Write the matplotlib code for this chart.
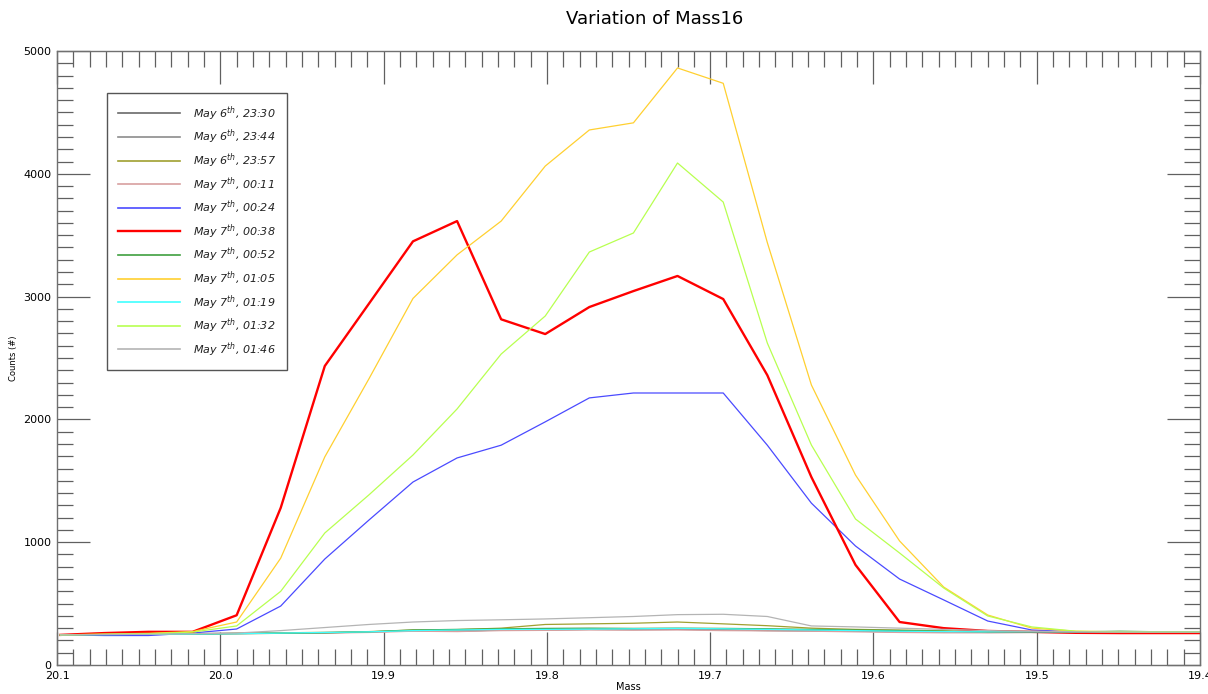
import matplotlib
matplotlib.use('Agg')
import matplotlib.pyplot as plt
from matplotlib.ticker import MultipleLocator

plt.rcParams['font.family'] = 'DejaVu Sans'
plt.rcParams['mathtext.default'] = 'it'

# mass positions of the scan points
mass = [20.098, 20.071, 20.044, 20.017, 19.990, 19.963, 19.936, 19.909, 19.882,
        19.855, 19.828, 19.801, 19.774, 19.747, 19.720, 19.692, 19.665, 19.638,
        19.611, 19.584, 19.557, 19.530, 19.503, 19.476, 19.449, 19.422, 19.395]

labels = ['May 6$^{th}$, 23:30', 'May 6$^{th}$, 23:44', 'May 6$^{th}$, 23:57',
          'May 7$^{th}$, 00:11', 'May 7$^{th}$, 00:24', 'May 7$^{th}$, 00:38',
          'May 7$^{th}$, 00:52', 'May 7$^{th}$, 01:05', 'May 7$^{th}$, 01:19',
          'May 7$^{th}$, 01:32', 'May 7$^{th}$, 01:46']

c_2330 = [245, 245, 250, 255, 258, 260, 262, 268, 280, 275, 285, 285, 290, 290,
          292, 285, 280, 278, 275, 270, 268, 265, 265, 265, 265, 265, 265]
c_2344 = [245, 247, 250, 253, 256, 260, 264, 270, 278, 278, 283, 288, 290, 288,
          290, 287, 282, 280, 276, 272, 268, 266, 266, 268, 268, 268, 268]
c_2357 = [245, 248, 252, 255, 258, 262, 266, 272, 285, 288, 300, 330, 335, 340,
          350, 335, 320, 300, 290, 285, 278, 272, 270, 270, 270, 270, 270]
c_0011 = [245, 250, 255, 255, 255, 258, 260, 265, 275, 272, 280, 282, 285, 283,
          285, 280, 278, 275, 270, 265, 262, 262, 265, 265, 265, 265, 265]
c_0024 = [245, 240, 240, 260, 293, 480, 863, 1180, 1490, 1686, 1790, 1980, 2175,
          2215, 2215, 2215, 1790, 1318, 969, 700, 530, 358, 285, 270, 268, 268, 268]
c_0038 = [245, 260, 270, 270, 405, 1280, 2435, 2942, 3450, 3615, 2815, 2695, 2915,
          3045, 3168, 2980, 2360, 1530, 815, 350, 300, 277, 270, 262, 260, 260, 260]
c_0052 = [245, 248, 250, 252, 255, 258, 262, 270, 285, 290, 295, 298, 300, 298,
          300, 298, 295, 290, 285, 280, 275, 270, 270, 270, 275, 270, 270]
c_0105 = [245, 252, 258, 272, 350, 870, 1695, 2330, 2985, 3340, 3615, 4063, 4357,
          4415, 4862, 4737, 3440, 2280, 1547, 1010, 635, 407, 300, 275, 270, 270, 270]
c_0119 = [245, 248, 250, 252, 255, 260, 265, 270, 280, 285, 290, 290, 292, 295,
          298, 295, 290, 285, 280, 275, 272, 270, 270, 270, 270, 270, 270]
c_0132 = [245, 250, 255, 268, 318, 600, 1075, 1385, 1710, 2085, 2532, 2842, 3363,
          3518, 4088, 3770, 2622, 1791, 1189, 912, 627, 399, 310, 275, 270, 270, 270]
c_0146 = [245, 248, 250, 255, 260, 280, 305, 330, 350, 362, 368, 375, 385, 395,
          410, 413, 395, 318, 310, 300, 290, 280, 275, 270, 268, 268, 268]

series = [c_2330, c_2344, c_2357, c_0011, c_0024, c_0038,
          c_0052, c_0105, c_0119, c_0132, c_0146]
colors = ['#6a6a6a', '#8c8c8c', '#a0a030', '#d8a0a0', '#4a4aff', '#ff0000',
          '#40a040', '#ffd030', '#40ffff', '#b8ff50', '#b4b4b4']
widths = [0.9, 0.9, 0.9, 0.9, 0.9, 1.7, 0.9, 0.9, 0.9, 0.9, 0.9]

fig = plt.figure(figsize=(12.08, 6.94), dpi=100)
ax = fig.add_axes([0.0472, 0.0418, 0.9462, 0.8847])

for vals, lab, col, lw in zip(series, labels, colors, widths):
    ax.plot(mass, vals, color=col, lw=lw, label=lab)

ax.set_xlim(20.1, 19.4)
ax.set_ylim(0, 5000)
ax.xaxis.set_major_locator(MultipleLocator(0.1))
ax.xaxis.set_minor_locator(MultipleLocator(0.01))
ax.yaxis.set_major_locator(MultipleLocator(1000))
ax.yaxis.set_minor_locator(MultipleLocator(100))
ax.xaxis.set_major_formatter(plt.FuncFormatter(lambda v, p: '%.1f' % v))
ax.tick_params(which='both', direction='in', top=True, right=True,
               color='#606060', width=0.9, labelsize=8, labelcolor='black')
ax.tick_params(which='major', length=24, pad=4)
ax.tick_params(which='minor', length=11.5)
for sp in ax.spines.values():
    sp.set_color('#707070')
    sp.set_linewidth(1.0)

fig.text(0.542, 0.972, 'Variation of Mass16', fontsize=13, ha='center', va='center')
ax.set_xlabel('Mass', fontsize=7, labelpad=1)
ax.set_ylabel('Counts (#)', fontsize=6, labelpad=4)

leg = ax.legend(loc='upper left', bbox_to_anchor=(0.0437, 0.9316), borderaxespad=0,
                fontsize=8, handlelength=5.6, labelspacing=0.45, borderpad=1.0,
                handletextpad=1.1, fancybox=False, framealpha=1)
leg.get_frame().set_edgecolor('#555555')
leg.get_frame().set_linewidth(1.0)
for t in leg.get_texts():
    t.set_fontstyle('italic')
    t.set_color('#222222')
for h in leg.get_lines():
    h.set_linewidth(max(h.get_linewidth(), 1.2))

fig.savefig('out.png', dpi=100)
